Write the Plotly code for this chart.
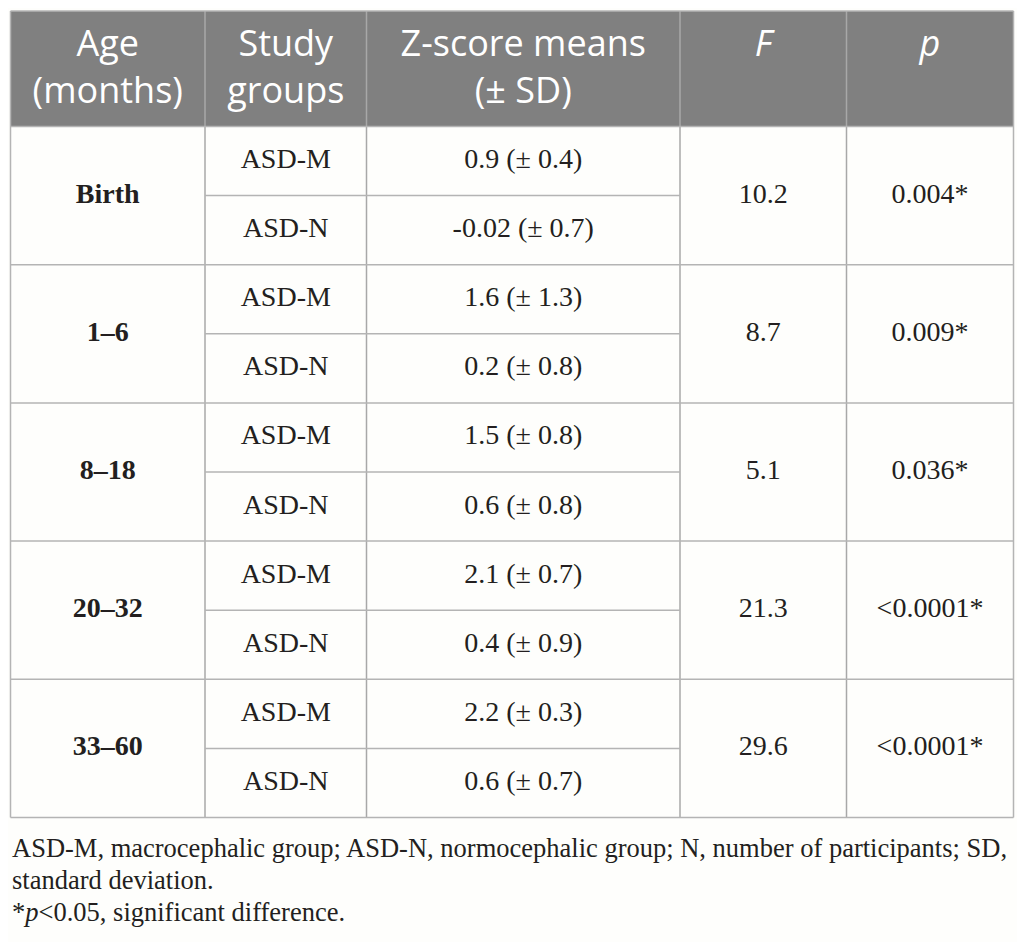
import plotly.graph_objects as go

# table values
ages = ["Birth", "1–6", "8–18", "20–32", "33–60"]
groups = ["ASD-M", "ASD-N"]
z_means = [0.9, -0.02, 1.6, 0.2, 1.5, 0.6, 2.1, 0.4, 2.2, 0.6]
z_sd = [0.4, 0.7, 1.3, 0.8, 0.8, 0.8, 0.7, 0.9, 0.3, 0.7]
f_values = [10.2, 8.7, 5.1, 21.3, 29.6]
p_values = ["0.004*", "0.009*", "0.036*", "<0.0001*", "<0.0001*"]
headers = ["Age<br>(months)", "Study<br>groups", "Z-score means<br>(± SD)",
           "<i>F</i><br> ", "<i>p</i><br> "]
notes = ["ASD-M, macrocephalic group; ASD-N, normocephalic group; N, number of participants; SD,",
         "standard deviation.",
         "*<i>p</i>&lt;0.05, significant difference."]

# layout (pixel space); the page body has an 8px margin, so axes start at 8
W, H = 1025, 942
off = 8
col_edges = [10.5, 205, 366.5, 680, 846.5, 1013.5]
top, head_bottom, bottom = 11, 126.5, 817.5
n_sub = len(ages) * len(groups)
row_h = (bottom - head_bottom) / n_sub

grid = "#b4b4b4"
ink = "#231f20"
head_fill = "#808080"
body_font = "Liberation Serif"
head_font = "Open Sans"
body_size = 28

col_mid = [(col_edges[i] + col_edges[i + 1]) / 2 for i in range(5)]
sub_mid = [head_bottom + row_h * (i + 0.5) for i in range(n_sub)]
grp_mid = [head_bottom + row_h * (2 * i + 1) for i in range(len(ages))]

fig = go.Figure()

shapes = [dict(type="rect", x0=col_edges[0], x1=col_edges[-1], y0=top, y1=head_bottom,
               fillcolor=head_fill, line=dict(width=0), layer="below")]
# vertical lines
for x in col_edges:
    shapes.append(dict(type="line", x0=x, x1=x, y0=top, y1=bottom,
                       line=dict(color=grid if x in (col_edges[0], col_edges[-1]) else "#a8a8a8", width=1.5)))
# horizontal lines
shapes.append(dict(type="line", x0=col_edges[0], x1=col_edges[-1], y0=top, y1=top,
                   line=dict(color=grid, width=1.5)))
for i in range(n_sub + 1):
    y = head_bottom + row_h * i
    if i % 2 == 0:
        x0, x1 = col_edges[0], col_edges[-1]
    else:
        x0, x1 = col_edges[1], col_edges[3]
    shapes.append(dict(type="line", x0=x0, x1=x1, y0=y, y1=y, line=dict(color=grid, width=1.5)))

# header text
fig.add_trace(go.Scatter(x=col_mid, y=[(top + head_bottom) / 2 + 2] * 5, mode="text",
                         text=headers, textposition="middle center",
                         textfont=dict(family=head_font, size=36, color="white"),
                         hoverinfo="skip"))

# age labels (bold, merged cells)
fig.add_trace(go.Scatter(x=[col_mid[0]] * len(ages), y=grp_mid, mode="text",
                         text=["<b>%s</b>" % a for a in ages], textposition="middle center",
                         textfont=dict(family=body_font, size=body_size, color=ink), hoverinfo="skip"))

# study groups
fig.add_trace(go.Scatter(x=[col_mid[1]] * n_sub, y=sub_mid, mode="text",
                         text=groups * len(ages), textposition="middle center",
                         textfont=dict(family=body_font, size=body_size, color=ink), hoverinfo="skip"))

# z-score means
z_text = ["%g (± %g)" % (m, s) for m, s in zip(z_means, z_sd)]
fig.add_trace(go.Scatter(x=[col_mid[2]] * n_sub, y=sub_mid, mode="text",
                         text=z_text, textposition="middle center",
                         textfont=dict(family=body_font, size=body_size, color=ink), hoverinfo="skip"))

# F and p (merged cells)
fig.add_trace(go.Scatter(x=[col_mid[3]] * len(ages), y=grp_mid, mode="text",
                         text=["%g" % f for f in f_values], textposition="middle center",
                         textfont=dict(family=body_font, size=body_size, color=ink), hoverinfo="skip"))
fig.add_trace(go.Scatter(x=[col_mid[4]] * len(ages), y=grp_mid, mode="text",
                         text=[p.replace("<", "&lt;") for p in p_values], textposition="middle center",
                         textfont=dict(family=body_font, size=body_size, color=ink), hoverinfo="skip"))

# footnotes
annotations = []
for i, line in enumerate(notes):
    annotations.append(dict(x=col_edges[0] - 1, y=848 + 32 * i, xref="x", yref="y", text=line,
                            showarrow=False, xanchor="left", yanchor="middle",
                            font=dict(family=body_font, size=26.5, color=ink)))

fig.update_layout(width=W, height=H, margin=dict(l=0, r=0, t=0, b=0),
                  paper_bgcolor="#fefefc", plot_bgcolor="#fefefc",
                  showlegend=False, shapes=shapes, annotations=annotations,
                  xaxis=dict(range=[off, W + off], visible=False, fixedrange=True),
                  yaxis=dict(range=[H + off, off], visible=False, fixedrange=True))

fig.write_html("out.html")
